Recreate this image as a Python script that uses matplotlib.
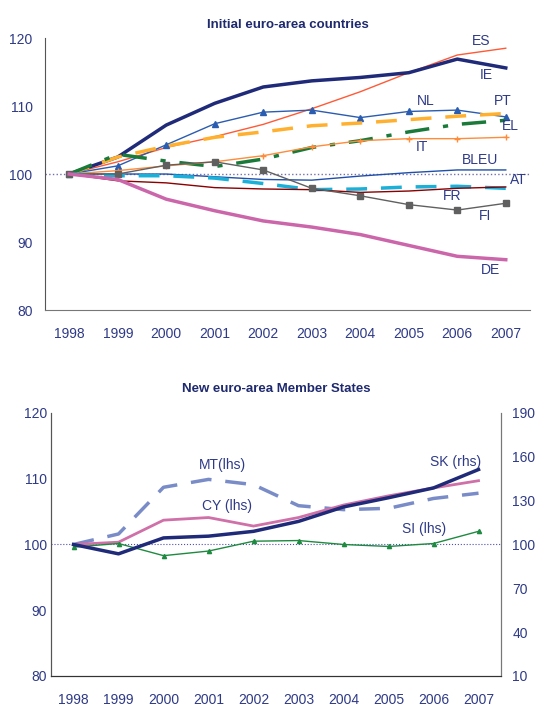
import numpy as np
import matplotlib.pyplot as plt

plt.rcParams['font.family'] = ['Liberation Sans', 'DejaVu Sans']

years = ['1998', '1999', '2000', '2001', '2002', '2003', '2004', '2005', '2006', '2007']

# initial euro-area countries (1998 = 100)
ie = [100, 102.5, 107.2, 110.4, 112.8, 113.7, 114.2, 114.9, 116.9, 115.6]
es = [100, 101.8, 103.9, 105.5, 107.3, 109.6, 112.1, 114.9, 117.5, 118.5]
nl = [100, 101.2, 104.3, 107.4, 109.1, 109.4, 108.3, 109.2, 109.4, 108.4]
pt = [100, 102.5, 104.1, 105.4, 106.2, 107.1, 107.5, 108.0, 108.5, 108.9]
el = [100, 102.9, 101.9, 101.1, 102.2, 103.9, 104.9, 106.2, 107.3, 107.9]
it = [100, 100.5, 101.2, 101.8, 102.7, 104.0, 104.9, 105.2, 105.2, 105.4]
bleu = [100, 100.0, 100.0, 99.6, 99.2, 99.1, 99.7, 100.2, 100.6, 100.6]
at = [100, 99.75, 99.75, 99.4, 98.6, 97.7, 97.8, 98.1, 98.2, 97.9]
fr = [100, 99.0, 98.7, 98.0, 97.8, 97.7, 97.3, 97.5, 97.9, 98.1]
fi = [100, 100.0, 101.3, 101.8, 100.6, 97.9, 96.8, 95.5, 94.7, 95.7]
de = [100, 99.2, 96.3, 94.6, 93.1, 92.2, 91.1, 89.5, 87.9, 87.4]

# new member states
mt = [100, 101.6, 108.7, 109.9, 109.1, 105.9, 105.3, 105.5, 107.0, 107.8]
cy = [100, 100.35, 103.7, 104.1, 102.8, 104.1, 106.0, 107.4, 108.6, 109.7]
si = [99.6, 100.15, 98.3, 99.0, 100.5, 100.6, 100.0, 99.7, 100.15, 102.0]
sk = [100, 93.6, 104.5, 105.7, 109.0, 115.8, 125.7, 132.0, 138.7, 151.3]  # rhs

txt = '#2E3A87'
x = np.arange(len(years))

fig = plt.figure(figsize=(5.37, 7.08), dpi=100)

# ---------- top chart ----------
ax = fig.add_axes([0.0838, 0.5621, 0.9032, 0.3842])
ax.axhline(100, color='#7070B0', lw=1, ls=':')
ax.plot(x, es, color='#FF5A36', lw=1)
ax.plot(x, ie, color='#1F2A78', lw=2.5)
ax.plot(x, nl, color='#2A5CB0', lw=1, marker='^', ms=5)
ax.plot(x, pt, color='#FFB02E', lw=2.5, dashes=(6, 4))
ax.plot(x, el, color='#1A7A3A', lw=2.5, dashes=(7, 4, 1.5, 4))
ax.plot(x, it, color='#FF8C3A', lw=1, marker='+', ms=4)
ax.plot(x, bleu, color='#1F4FA8', lw=1)
ax.plot(x, at, color='#1AB0D8', lw=2.5, dashes=(6, 4))
ax.plot(x, fr, color='#8B0000', lw=1)
ax.plot(x, fi, color='#606060', lw=1, marker='s', ms=5)
ax.plot(x, de, color='#CC66AA', lw=2.5)

labels_top = [('ES', 8.5, 119.5), ('IE', 8.6, 114.5), ('NL', 7.36, 110.8), ('PT', 8.94, 110.8),
              ('EL', 9.09, 107.0), ('IT', 7.27, 104.0), ('BLEU', 8.47, 102.1), ('AT', 9.25, 99.1),
              ('FR', 7.89, 96.8), ('FI', 8.57, 93.9), ('DE', 8.68, 85.9)]
for name, lx, ly in labels_top:
    ax.text(lx, ly, name, color=txt, fontsize=10, ha='center', va='center')

ax.set_xlim(-0.5, 9.5)
ax.set_ylim(80, 120)
ax.set_yticks([80, 90, 100, 110, 120])
ax.set_xticks(x)
ax.set_xticklabels(years)
ax.tick_params(length=0, labelsize=10, colors=txt)
ax.tick_params(axis='x', pad=12)
ax.tick_params(axis='y', pad=9)
for s in ['top', 'right']:
    ax.spines[s].set_visible(False)
ax.spines['left'].set_color('#555555')
ax.spines['bottom'].set_color('#777777')
ax.set_title('Initial euro-area countries', fontsize=9.5, fontweight='bold', color='#1F2A6E', pad=7)

# ---------- bottom chart ----------
ax2 = fig.add_axes([0.095, 0.0452, 0.838, 0.3715])
ax3 = ax2.twinx()
ax2.axhline(100, color='#5050B0', lw=0.8, ls=':')
ax2.plot(x, mt, color='#7A8CC8', lw=2.5, dashes=(6, 4))
ax2.plot(x, cy, color='#D070A8', lw=2)
ax2.plot(x, si, color='#1E8A40', lw=1, marker='^', ms=3)
ax3.plot(x, sk, color='#1F2A78', lw=2.5)

labels_bot = [('MT(lhs)', 3.3, 112.1), ('CY (lhs)', 3.4, 105.8), ('SK (rhs)', 8.5, 112.6), ('SI (lhs)', 7.8, 102.3)]
for name, lx, ly in labels_bot:
    ax2.text(lx, ly, name, color=txt, fontsize=10, ha='center', va='center')

ax2.set_xlim(-0.5, 9.5)
ax2.set_ylim(80, 120)
ax2.set_yticks([80, 90, 100, 110, 120])
ax3.set_ylim(10, 190)
ax3.set_yticks([10, 40, 70, 100, 130, 160, 190])
ax2.set_xticks(x)
ax2.set_xticklabels(years)
ax2.tick_params(length=0, labelsize=10, colors=txt)
ax2.tick_params(axis='x', pad=12)
ax2.tick_params(axis='y', pad=3)
ax3.tick_params(length=0, labelsize=10, colors=txt, pad=8)
for a in [ax2, ax3]:
    a.spines['top'].set_visible(False)
    a.spines['left'].set_color('#555555')
    a.spines['right'].set_color('#777777')
    a.spines['bottom'].set_color('#333333')
ax2.set_title('New euro-area Member States', fontsize=9.5, fontweight='bold', color='#1F2A6E', pad=15)

plt.savefig('out.png', dpi=100)
